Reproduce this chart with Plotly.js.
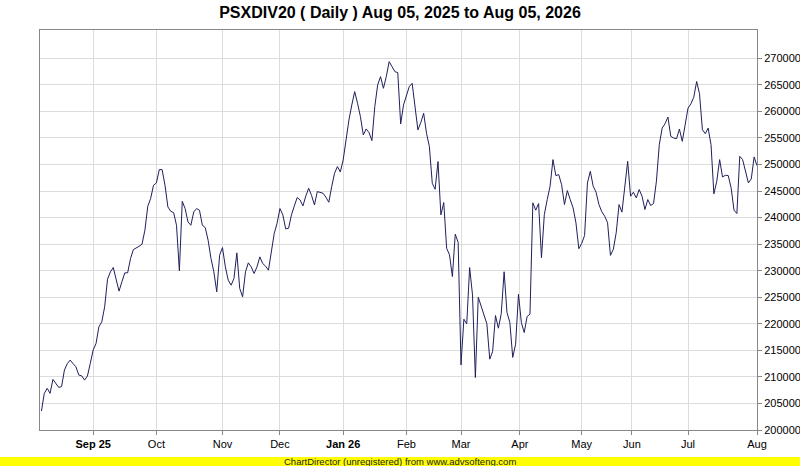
<!DOCTYPE html>
<html>
<head>
<meta charset="utf-8">
<script src="https://cdn.plot.ly/plotly-3.0.1.min.js"></script>
<style>html,body{margin:0;padding:0;background:#fff;}#chart{width:800px;height:466px;}</style>
</head>
<body>
<div id="chart"></div>
<script>
// Daily closing values of PSXDIV20, one per trading day (index 0 = Aug 05, 2025)
const closeValues = [
203570,206900,207840,206900,209530,208780,208030,208150,211290,212500,
213170,212500,211910,210350,210200,209400,210150,212540,215050,216300,
219440,220380,223200,228400,229780,230600,228530,226150,227900,229590,
229600,232290,233980,234230,234600,234990,237620,242130,243580,246090,
246520,249030,249030,246090,242010,241190,240940,238560,229970,243070,
241700,239190,238560,241070,241700,241380,238560,238120,235740,232290,
229780,226020,232920,234360,230720,228210,227270,228530,233360,226650,
225080,229780,231480,230720,229470,230720,232600,231350,230850,230100,
233230,236990,238940,241700,240510,237870,238000,240510,242200,243770,
243330,242200,244080,245530,244150,242390,244900,244710,244590,243830,
242890,245840,248350,249610,248600,250860,254940,258390,261210,263730,
261530,259020,255570,256700,256010,254500,260900,264980,266550,264350,
266550,269370,268430,267490,267300,257640,261210,262910,264670,265290,
260590,256510,257890,259650,255880,253370,246470,245340,250550,240510,
242830,234230,232980,228900,236870,235360,212270,220870,219990,230590,
225450,209880,225010,223250,221370,219990,213340,214780,221560,219170,
221900,229800,222120,220240,213670,216170,225560,220240,218360,221370,
221810,242780,241400,242650,232450,240590,243400,245910,250920,247910,
248100,246220,242460,245090,243400,241840,239020,234140,235140,236640,
246530,248720,245910,244780,242460,241090,240270,239020,232890,234010,
237140,242460,241030,246530,250600,244030,244780,243720,245280,244030,
241530,243400,242280,242650,246850,253730,256860,257680,258930,255300,
254990,254860,256670,254360,257490,260620,261430,262680,265630,263310,
256550,255800,256860,253730,244470,246850,250920,247660,247970,247910,
245590,241400,240770,251540,250920,248410,246530,247280,251420,249790
];
const dayIndex = closeValues.map((v, i) => i);

// Month labels and the trading-day index where each month begins
const monthLabels = ['<b>Sep 25</b>','Oct','Nov','Dec','<b>Jan 26</b>','Feb','Mar','Apr','May','Jun','Jul','Aug'];
const monthStartIndex = [18, 40, 63, 83, 105, 127, 146, 166.5, 188, 205.5, 225, 249];

// Y-axis tick values
const yTickValues = [200000,205000,210000,215000,220000,225000,230000,235000,240000,245000,250000,255000,260000,265000,270000];

const titleText = 'PSXDIV20 ( Daily ) Aug 05, 2025 to Aug 05, 2026';
const footerText = 'ChartDirector (unregistered) from www.advsofteng.com';

const font = 'Liberation Sans, Arial, Helvetica, sans-serif';

const trace = {
  x: dayIndex,
  y: closeValues,
  type: 'scatter',
  mode: 'lines',
  line: {color: '#1f1f5c', width: 1},
  hoverinfo: 'skip'
};

const layout = {
  width: 800,
  height: 466,
  margin: {l: 40, r: 43, t: 30, b: 36, pad: 0},
  paper_bgcolor: '#ffffff',
  plot_bgcolor: '#ffffff',
  showlegend: false,
  title: {
    text: '<b>' + titleText + '</b>',
    font: {family: font, size: 16, color: '#000000'},
    x: 0.5, xref: 'container', xanchor: 'center',
    y: 1 - 12/466, yref: 'container', yanchor: 'middle'
  },
  xaxis: {
    range: [-0.5, 249],
    tickmode: 'array',
    tickvals: monthStartIndex,
    ticktext: monthLabels,
    showgrid: true,
    gridcolor: '#dcdcdc',
    gridwidth: 1,
    zeroline: false,
    showline: true,
    linecolor: '#888888',
    linewidth: 1,
    mirror: true,
    ticks: 'outside',
    ticklen: 4,
    tickcolor: '#888888',
    tickfont: {family: font, size: 11, color: '#000000'},
    fixedrange: true
  },
  yaxis: {
    side: 'right',
    range: [200000, 275330],
    tickmode: 'array',
    tickvals: yTickValues,
    ticktext: yTickValues.map(v => String(v)),
    showgrid: true,
    gridcolor: '#dcdcdc',
    gridwidth: 1,
    zeroline: false,
    showline: true,
    linecolor: '#888888',
    linewidth: 1,
    mirror: true,
    ticks: 'outside',
    ticklen: 4,
    tickcolor: '#888888',
    tickfont: {family: font, size: 11, color: '#000000'},
    fixedrange: true
  },
  shapes: [{
    type: 'rect', xref: 'paper', yref: 'paper',
    x0: -40/717, x1: 760/717, y0: -27/400, y1: -37/400,
    fillcolor: '#ffff00', line: {width: 0}, layer: 'below'
  }],
  annotations: [{
    text: footerText,
    xref: 'paper', yref: 'paper',
    x: 360/717, y: -31.5/400,
    xanchor: 'center', yanchor: 'middle',
    showarrow: false,
    font: {family: font, size: 9.5, color: '#222222'}
  }]
};

Plotly.newPlot('chart', [trace], layout, {displayModeBar: false, staticPlot: true});
</script>
</body>
</html>
